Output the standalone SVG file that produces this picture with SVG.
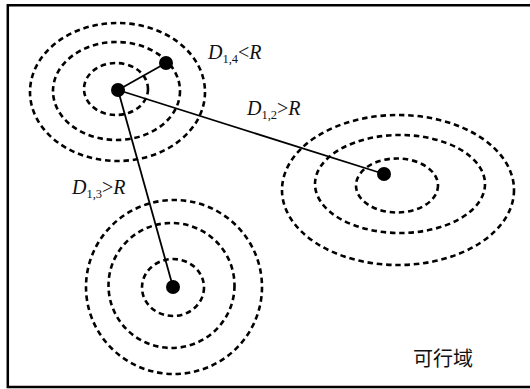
<svg xmlns="http://www.w3.org/2000/svg" width="530" height="389" viewBox="0 0 530 389">
<style>
.ring{fill:none;stroke:#000;stroke-width:2.6;stroke-dasharray:5.5 3.8}
.dot{fill:#000}
.edge{stroke:#000;stroke-width:1.8;fill:none}
.lbl{font-family:"Liberation Serif","Times New Roman",serif;font-size:20px;font-style:italic;fill:#111}
.sub{font-style:normal;font-size:12.5px}
.cn{font-family:"Liberation Serif","Noto Sans CJK SC",serif;font-size:20px;fill:#111}
</style>
<rect width="530" height="389" fill="#fff"/>
<path d="M532 5.3 H7.8 V387 H532" fill="none" stroke="#000" stroke-width="2.5"/>
<g id="connectors">
<line class="edge" x1="118" y1="90" x2="166" y2="63"/>
<line class="edge" x1="118" y1="90" x2="384" y2="174"/>
<line class="edge" x1="118" y1="90" x2="173" y2="287"/>
</g>
<g id="cluster1">
<ellipse class="ring" cx="116" cy="89" rx="32" ry="26"/>
<ellipse class="ring" cx="116.5" cy="91" rx="63.5" ry="49"/>
<ellipse class="ring" cx="117.5" cy="92" rx="87.5" ry="69"/>
<circle id="node1" class="dot" cx="118" cy="90" r="7"/>
</g>
<g id="node4"><circle class="dot" cx="166" cy="63" r="7"/></g>
<g id="cluster2">
<ellipse class="ring" cx="397" cy="185.5" rx="41" ry="27"/>
<ellipse class="ring" cx="400" cy="184" rx="85" ry="49"/>
<ellipse class="ring" cx="398" cy="190" rx="116" ry="75"/>
<circle id="node2" class="dot" cx="384" cy="174" r="7"/>
</g>
<g id="cluster3">
<ellipse class="ring" cx="173" cy="287.5" rx="31" ry="28.5"/>
<ellipse class="ring" cx="171.5" cy="285.5" rx="63" ry="62.5"/>
<ellipse class="ring" cx="174" cy="287" rx="88" ry="87"/>
<circle id="node3" class="dot" cx="173" cy="287" r="7"/>
</g>
<g id="labels">
<text class="lbl" x="208" y="59">D<tspan class="sub" dy="4">1,4</tspan><tspan dy="-4" style="font-style:normal">&lt;</tspan>R</text>
<text class="lbl" x="247" y="115">D<tspan class="sub" dy="4">1,2</tspan><tspan dy="-4" style="font-style:normal">&gt;</tspan>R</text>
<text class="lbl" x="72" y="194">D<tspan class="sub" dy="4">1,3</tspan><tspan dy="-4" style="font-style:normal">&gt;</tspan>R</text>
<text class="cn" x="413" y="366">可行域</text>
</g>
</svg>
